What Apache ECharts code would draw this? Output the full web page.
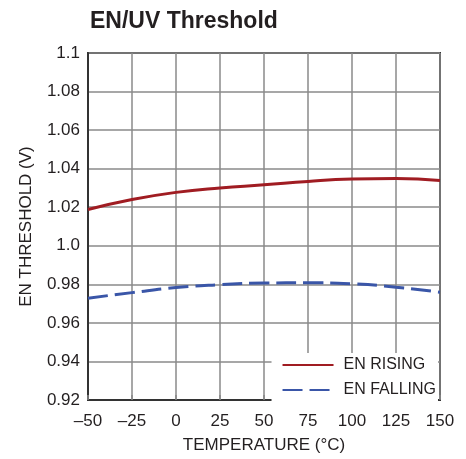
<!DOCTYPE html>
<html><head><meta charset="utf-8">
<script src="https://cdn.jsdelivr.net/npm/echarts@6/dist/echarts.min.js"></script>
<style>html,body{margin:0;padding:0;background:#fff}#c{width:466px;height:459px}</style>
</head><body><div id="c"></div>
<script>
const tempC = [-50, -25, 0, 25, 50, 75, 100, 125, 150];
const enRising = [1.0188, 1.024, 1.0277, 1.030, 1.0316, 1.0334, 1.0346, 1.0349, 1.0339];
const enFalling = [0.9728, 0.9757, 0.9783, 0.9798, 0.9807, 0.9808, 0.9803, 0.9785, 0.9759];
const xTickLabels = ['–50', '–25', '0', '25', '50', '75', '100', '125', '150'];
const yTickLabels = ['0.92', '0.94', '0.96', '0.98', '1.0', '1.02', '1.04', '1.06', '1.08', '1.1'];

const FONT = "'Liberation Sans Narrow', 'Arial Narrow', 'Liberation Sans', sans-serif";
const chart = echarts.init(document.getElementById('c'), null, {renderer: 'canvas'});
chart.setOption({
  animation: false,
  backgroundColor: '#fff',
  title: {
    text: 'EN/UV Threshold', left: 86, top: 10, padding: [0, 4],
    textStyle: {fontFamily: FONT, fontSize: 23, fontWeight: 'bold', color: '#231f20'}
  },
  grid: {left: 88, right: 26, top: 53, bottom: 54, show: true, borderColor: '#333', borderWidth: 2},
  legend: {
    right: 28, bottom: 57, orient: 'vertical', itemWidth: 51, itemHeight: 12, itemGap: 9,
    backgroundColor: '#fff', padding: [4, 2, 4, 10],
    itemStyle: {opacity: 0},
    textStyle: {fontFamily: FONT, fontSize: 16, color: '#231f20', padding: [0, 0, 0, 5]},
    data: ['EN RISING', 'EN FALLING']
  },
  xAxis: {
    type: 'value', min: -50, max: 150, interval: 25,
    name: 'TEMPERATURE (°C)', nameLocation: 'middle', nameGap: 37,
    nameTextStyle: {fontFamily: FONT, fontSize: 17, color: '#231f20'},
    axisLine: {onZero: false, lineStyle: {color: '#333', width: 2}},
    axisTick: {show: true, inside: true, length: 5, lineStyle: {color: '#888', width: 1.5}},
    axisLabel: {fontFamily: FONT, fontSize: 17, color: '#231f20', margin: 13,
      formatter: v => xTickLabels[Math.round((v + 50) / 25)]},
    splitLine: {lineStyle: {color: '#8a8a8a', width: 1.5}}
  },
  yAxis: {
    type: 'value', min: 0.92, max: 1.1, interval: 0.02,
    name: 'EN THRESHOLD (V)', nameLocation: 'middle', nameGap: 53,
    nameTextStyle: {fontFamily: FONT, fontSize: 17, color: '#231f20'},
    axisLine: {show: true, onZero: false, lineStyle: {color: '#333', width: 2}},
    axisTick: {show: false},
    axisLabel: {fontFamily: FONT, fontSize: 17, color: '#231f20', margin: 8,
      formatter: v => yTickLabels[Math.round((v - 0.92) / 0.02)]},
    splitLine: {lineStyle: {color: '#8a8a8a', width: 1.5}}
  },
  series: [
    {name: 'EN RISING', type: 'line', smooth: true, symbol: 'none', showSymbol: false,
     data: tempC.map((t, i) => [t, enRising[i]]),
     lineStyle: {color: '#a01c22', width: 3}, itemStyle: {color: '#a01c22'}},
    {name: 'EN FALLING', type: 'line', smooth: true, symbol: 'none', showSymbol: false,
     data: tempC.map((t, i) => [t, enFalling[i]]),
     lineStyle: {color: '#3a56a8', width: 3, type: [20, 7]}, itemStyle: {color: '#3a56a8'}}
  ]
});
</script></body></html>
